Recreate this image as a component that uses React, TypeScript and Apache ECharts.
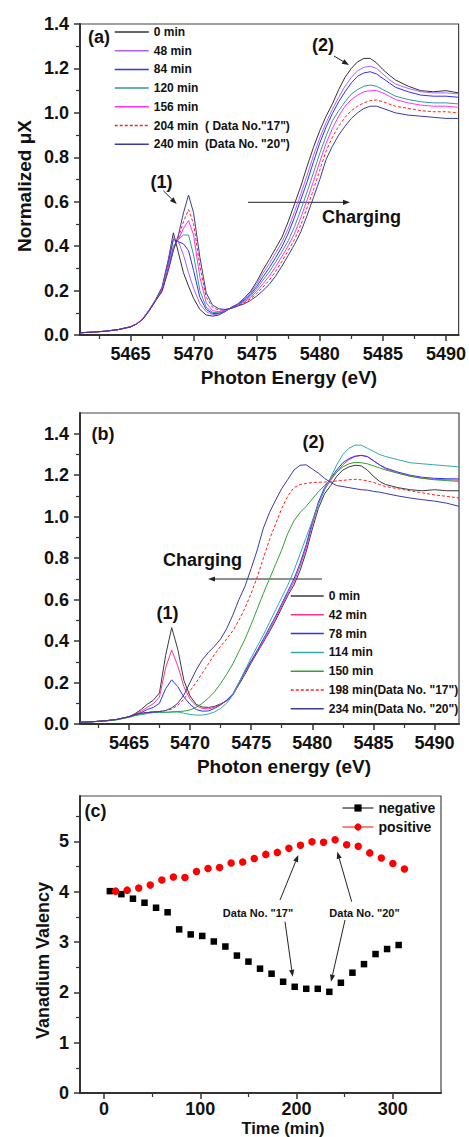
import React, { useEffect, useRef } from "react";
import * as echarts from "echarts";

// ---------- Panel (a) data ----------
const ENERGY_A = [5461, 5462, 5463, 5464, 5465, 5465.5, 5466, 5466.5, 5467, 5467.5, 5468, 5468.4, 5468.8, 5469.2, 5469.6, 5470, 5470.5, 5471, 5471.5, 5472, 5472.5, 5473, 5473.5, 5474, 5474.5, 5475, 5475.5, 5476, 5476.5, 5477, 5477.5, 5478, 5478.5, 5479, 5479.5, 5480, 5480.5, 5481, 5481.5, 5482, 5482.5, 5483, 5483.5, 5484, 5484.5, 5485, 5485.5, 5486, 5487, 5488, 5489, 5490, 5491];
const A_0 = [0.010, 0.013, 0.017, 0.024, 0.037, 0.050, 0.075, 0.115, 0.160, 0.215, 0.340, 0.460, 0.370, 0.280, 0.220, 0.165, 0.115, 0.090, 0.085, 0.090, 0.105, 0.125, 0.140, 0.165, 0.195, 0.240, 0.293, 0.340, 0.390, 0.440, 0.510, 0.590, 0.670, 0.760, 0.845, 0.920, 0.985, 1.040, 1.105, 1.160, 1.200, 1.230, 1.245, 1.245, 1.225, 1.195, 1.170, 1.148, 1.120, 1.100, 1.095, 1.100, 1.090];
const A_48 = [0.010, 0.013, 0.017, 0.024, 0.037, 0.050, 0.075, 0.113, 0.158, 0.210, 0.330, 0.440, 0.420, 0.360, 0.280, 0.210, 0.140, 0.105, 0.092, 0.094, 0.106, 0.124, 0.138, 0.161, 0.188, 0.229, 0.278, 0.321, 0.369, 0.418, 0.479, 0.555, 0.635, 0.720, 0.808, 0.887, 0.956, 1.016, 1.070, 1.120, 1.160, 1.190, 1.205, 1.210, 1.200, 1.175, 1.150, 1.130, 1.110, 1.095, 1.090, 1.090, 1.085];
const A_84 = [0.010, 0.013, 0.017, 0.024, 0.037, 0.050, 0.074, 0.112, 0.157, 0.210, 0.325, 0.430, 0.420, 0.410, 0.380, 0.290, 0.170, 0.115, 0.097, 0.097, 0.108, 0.123, 0.137, 0.157, 0.182, 0.218, 0.262, 0.303, 0.348, 0.397, 0.457, 0.530, 0.610, 0.690, 0.780, 0.864, 0.936, 0.997, 1.050, 1.095, 1.135, 1.165, 1.180, 1.185, 1.175, 1.155, 1.135, 1.115, 1.095, 1.080, 1.075, 1.075, 1.070];
const A_120 = [0.010, 0.013, 0.017, 0.024, 0.037, 0.050, 0.074, 0.112, 0.157, 0.205, 0.315, 0.400, 0.430, 0.450, 0.450, 0.360, 0.200, 0.125, 0.102, 0.100, 0.110, 0.122, 0.135, 0.153, 0.175, 0.208, 0.247, 0.284, 0.328, 0.375, 0.424, 0.488, 0.564, 0.644, 0.731, 0.818, 0.896, 0.964, 1.010, 1.050, 1.085, 1.105, 1.120, 1.125, 1.120, 1.105, 1.090, 1.075, 1.060, 1.050, 1.045, 1.045, 1.040];
const A_156 = [0.010, 0.013, 0.017, 0.024, 0.037, 0.050, 0.074, 0.112, 0.156, 0.200, 0.305, 0.390, 0.430, 0.480, 0.515, 0.450, 0.260, 0.145, 0.110, 0.105, 0.112, 0.121, 0.133, 0.148, 0.168, 0.197, 0.231, 0.265, 0.307, 0.353, 0.402, 0.457, 0.529, 0.609, 0.692, 0.780, 0.863, 0.930, 0.985, 1.030, 1.060, 1.080, 1.095, 1.100, 1.100, 1.090, 1.075, 1.060, 1.045, 1.035, 1.030, 1.030, 1.025];
const A_204 = [0.010, 0.013, 0.017, 0.024, 0.036, 0.050, 0.073, 0.111, 0.155, 0.200, 0.300, 0.385, 0.440, 0.510, 0.565, 0.500, 0.310, 0.170, 0.125, 0.112, 0.114, 0.120, 0.131, 0.144, 0.162, 0.186, 0.216, 0.247, 0.286, 0.332, 0.380, 0.430, 0.496, 0.574, 0.654, 0.742, 0.828, 0.890, 0.940, 0.980, 1.010, 1.030, 1.045, 1.055, 1.058, 1.050, 1.040, 1.030, 1.020, 1.010, 1.005, 1.005, 1.000];
const A_240 = [0.010, 0.013, 0.017, 0.024, 0.036, 0.050, 0.072, 0.110, 0.155, 0.195, 0.290, 0.380, 0.450, 0.550, 0.630, 0.550, 0.350, 0.190, 0.135, 0.118, 0.115, 0.120, 0.130, 0.140, 0.155, 0.175, 0.200, 0.228, 0.265, 0.310, 0.358, 0.408, 0.465, 0.539, 0.619, 0.700, 0.790, 0.850, 0.900, 0.940, 0.975, 1.000, 1.020, 1.030, 1.030, 1.020, 1.010, 1.000, 0.990, 0.985, 0.980, 0.975, 0.975];
const A_NAMES = ["0 min", "48 min", "84 min", "120 min", "156 min", "204 min  ( Data No.\"17\")", "240 min  (Data No. \"20\")"];
const A_COLORS = ["#333333", "#b060ff", "#3030ff", "#339999", "#ff30ff", "#ff2020", "#3a3aa0"];

// ---------- Panel (b) data ----------
const ENERGY_B = [5461, 5462, 5463, 5464, 5465, 5465.5, 5466, 5466.5, 5467, 5467.5, 5468, 5468.5, 5469, 5469.5, 5470, 5470.5, 5471, 5471.5, 5472, 5472.5, 5473, 5473.5, 5474, 5474.5, 5475, 5475.5, 5476, 5476.5, 5477, 5477.5, 5478, 5478.5, 5479, 5479.5, 5480, 5480.5, 5481, 5481.5, 5482, 5482.5, 5483, 5483.5, 5484, 5484.5, 5485, 5485.5, 5486, 5487, 5488, 5489, 5490, 5491, 5492];
const B_0 = [0.008, 0.011, 0.015, 0.022, 0.035, 0.050, 0.070, 0.095, 0.115, 0.150, 0.330, 0.465, 0.360, 0.210, 0.135, 0.095, 0.082, 0.080, 0.085, 0.097, 0.112, 0.140, 0.190, 0.240, 0.295, 0.345, 0.395, 0.445, 0.500, 0.560, 0.620, 0.670, 0.740, 0.830, 0.940, 1.040, 1.110, 1.150, 1.195, 1.225, 1.240, 1.248, 1.245, 1.225, 1.195, 1.170, 1.155, 1.140, 1.130, 1.125, 1.130, 1.125, 1.125];
const B_42 = [0.008, 0.011, 0.015, 0.022, 0.035, 0.048, 0.062, 0.080, 0.098, 0.130, 0.270, 0.357, 0.280, 0.180, 0.120, 0.088, 0.075, 0.073, 0.080, 0.095, 0.113, 0.140, 0.195, 0.250, 0.300, 0.350, 0.400, 0.455, 0.510, 0.570, 0.630, 0.685, 0.760, 0.850, 0.960, 1.060, 1.130, 1.175, 1.215, 1.250, 1.275, 1.290, 1.295, 1.290, 1.270, 1.250, 1.230, 1.210, 1.195, 1.185, 1.180, 1.178, 1.176];
const B_78 = [0.008, 0.011, 0.015, 0.022, 0.034, 0.045, 0.055, 0.070, 0.080, 0.100, 0.170, 0.213, 0.180, 0.130, 0.095, 0.070, 0.062, 0.063, 0.075, 0.092, 0.115, 0.145, 0.200, 0.255, 0.305, 0.355, 0.410, 0.465, 0.520, 0.580, 0.640, 0.700, 0.775, 0.865, 0.975, 1.070, 1.140, 1.185, 1.225, 1.260, 1.280, 1.292, 1.296, 1.290, 1.270, 1.250, 1.235, 1.215, 1.200, 1.190, 1.185, 1.183, 1.182];
const B_114 = [0.008, 0.011, 0.014, 0.020, 0.032, 0.040, 0.045, 0.050, 0.055, 0.055, 0.055, 0.058, 0.058, 0.052, 0.046, 0.043, 0.043, 0.048, 0.058, 0.075, 0.100, 0.140, 0.200, 0.260, 0.320, 0.375, 0.430, 0.490, 0.550, 0.610, 0.670, 0.740, 0.820, 0.900, 0.980, 1.060, 1.130, 1.190, 1.250, 1.300, 1.330, 1.345, 1.345, 1.330, 1.315, 1.300, 1.290, 1.275, 1.260, 1.255, 1.250, 1.245, 1.240];
const B_150 = [0.008, 0.011, 0.014, 0.021, 0.033, 0.042, 0.050, 0.055, 0.060, 0.058, 0.057, 0.058, 0.060, 0.062, 0.068, 0.080, 0.100, 0.125, 0.155, 0.195, 0.240, 0.290, 0.350, 0.410, 0.480, 0.555, 0.630, 0.700, 0.770, 0.840, 0.920, 0.980, 1.020, 1.050, 1.085, 1.120, 1.150, 1.180, 1.215, 1.240, 1.255, 1.262, 1.260, 1.255, 1.245, 1.235, 1.225, 1.210, 1.195, 1.185, 1.178, 1.174, 1.170];
const B_198 = [0.008, 0.011, 0.015, 0.022, 0.035, 0.045, 0.052, 0.056, 0.058, 0.060, 0.065, 0.072, 0.090, 0.120, 0.160, 0.200, 0.245, 0.290, 0.335, 0.375, 0.410, 0.450, 0.500, 0.560, 0.630, 0.710, 0.800, 0.890, 0.965, 1.040, 1.100, 1.140, 1.155, 1.160, 1.165, 1.166, 1.167, 1.170, 1.172, 1.175, 1.178, 1.180, 1.178, 1.172, 1.165, 1.155, 1.145, 1.135, 1.125, 1.115, 1.105, 1.098, 1.090];
const B_234 = [0.008, 0.011, 0.015, 0.022, 0.035, 0.045, 0.052, 0.055, 0.057, 0.060, 0.065, 0.078, 0.100, 0.140, 0.200, 0.260, 0.310, 0.345, 0.375, 0.410, 0.460, 0.525, 0.600, 0.665, 0.750, 0.840, 0.945, 1.020, 1.080, 1.135, 1.180, 1.225, 1.248, 1.250, 1.230, 1.210, 1.185, 1.165, 1.150, 1.145, 1.140, 1.135, 1.130, 1.128, 1.122, 1.118, 1.112, 1.100, 1.090, 1.082, 1.075, 1.065, 1.050];
const B_NAMES = ["0 min", "42 min", "78 min", "114 min", "150 min", "198 min(Data No. \"17\")", "234 min(Data No. \"20\")"];
const B_COLORS = ["#3a3a3a", "#ff3399", "#3030ff", "#33aaaa", "#33a033", "#ff2020", "#3a3aa0"];

// ---------- Panel (c) data ----------
const TIME_NEG = [6, 18, 30, 42, 54, 66, 78, 90, 102, 114, 126, 138, 150, 162, 174, 186, 198, 210, 222, 234, 246, 258, 270, 282, 294, 306];
const VAL_NEG = [4.01, 3.95, 3.86, 3.78, 3.68, 3.59, 3.25, 3.15, 3.12, 3.01, 2.91, 2.73, 2.61, 2.47, 2.37, 2.21, 2.11, 2.07, 2.07, 2.01, 2.19, 2.39, 2.56, 2.76, 2.86, 2.94];
const TIME_POS = [12, 24, 36, 48, 60, 72, 84, 96, 108, 120, 132, 144, 156, 168, 180, 192, 204, 216, 228, 240, 252, 264, 276, 288, 300, 312];
const VAL_POS = [4.01, 4.03, 4.07, 4.13, 4.23, 4.29, 4.28, 4.40, 4.46, 4.48, 4.57, 4.59, 4.66, 4.74, 4.78, 4.86, 4.92, 4.99, 4.98, 5.03, 4.93, 4.90, 4.77, 4.67, 4.56, 4.45];

// ---------- tick values ----------
const E_TICKS = [5465, 5470, 5475, 5480, 5485, 5490];
const E_MINOR = [5462.5, 5467.5, 5472.5, 5477.5, 5482.5, 5487.5];
const MU_TICKS = [0, 0.2, 0.4, 0.6, 0.8, 1.0, 1.2, 1.4];
const MU_MINOR = [0.1, 0.3, 0.5, 0.7, 0.9, 1.1, 1.3];
const T_TICKS = [0, 100, 200, 300];
const T_MINOR = [50, 150, 250];
const V_TICKS = [0, 1, 2, 3, 4, 5];
const V_MINOR = [0.5, 1.5, 2.5, 3.5, 4.5, 5.5];

const FONT = "'Liberation Sans', Arial, Helvetica, sans-serif";
const AX = "#333";
const INK = "#111";

const zip = (xs: number[], ys: number[]) => xs.map((x, i) => [x, ys[i]]);

function mainAxis(kind: "x" | "y", grid: number, min: number, max: number, ticks: number[], fmt?: (v: number) => string, margin?: number) {
  return {
    type: "value",
    gridIndex: grid,
    min,
    max,
    position: kind === "x" ? "bottom" : "left",
    axisLine: { show: true, onZero: false, lineStyle: { color: AX, width: 2 } },
    axisTick: { show: true, customValues: ticks, length: 6, lineStyle: { color: AX, width: 1.5 } },
    axisLabel: {
      show: true,
      customValues: ticks,
      margin: margin ?? (kind === "x" ? 10 : 11),
      fontSize: 18,
      fontWeight: "bold",
      fontFamily: FONT,
      color: INK,
      formatter: fmt,
    },
    splitLine: { show: false },
  };
}

function minorAxis(kind: "x" | "y", grid: number, min: number, max: number, ticks: number[]) {
  return {
    type: "value",
    gridIndex: grid,
    min,
    max,
    position: kind === "x" ? "bottom" : "left",
    axisLine: { show: false, onZero: false },
    axisTick: { show: true, customValues: ticks, length: 4, lineStyle: { color: AX, width: 1.2 } },
    axisLabel: { show: false },
    splitLine: { show: false },
  };
}

function text(x: number, y: number, t: string, size: number, rotation = 0) {
  return {
    type: "text",
    x,
    y,
    rotation,
    silent: true,
    style: {
      text: t,
      fontSize: size,
      fontWeight: "bold",
      fontFamily: FONT,
      fill: INK,
      align: "center",
      verticalAlign: "middle",
      textAlign: "center",
      textVerticalAlign: "middle",
    },
  };
}

function arrow(x1: number, y1: number, x2: number, y2: number, head = 7, half = 2.6) {
  const dx = x2 - x1;
  const dy = y2 - y1;
  const L = Math.hypot(dx, dy);
  const ux = dx / L;
  const uy = dy / L;
  const bx = x2 - ux * head;
  const by = y2 - uy * head;
  const px = -uy;
  const py = ux;
  return [
    { type: "line", silent: true, shape: { x1, y1, x2: bx, y2: by }, style: { stroke: "#222", lineWidth: 1 } },
    {
      type: "polygon",
      silent: true,
      shape: { points: [[x2, y2], [bx + px * half, by + py * half], [bx - px * half, by - py * half]] },
      style: { fill: "#222" },
    },
  ];
}

const dashOf = (i: number) => (i === 5 ? [3, 2] : "solid");

function spectraSeries(prefix: string, energy: number[], curves: number[][], names: string[], colors: string[], axis: number) {
  return curves.map((c, i) => ({
    type: "line",
    name: prefix + names[i],
    xAxisIndex: axis,
    yAxisIndex: axis,
    data: zip(energy, c),
    symbol: "none",
    silent: true,
    lineStyle: { color: colors[i], width: 1, type: dashOf(i) },
    itemStyle: { color: colors[i] },
    z: 2 + i,
  }));
}

function legendBox(left: number, top: number, prefix: string, names: string[], colors: string[], itemWidth: number, gap: number) {
  return {
    orient: "vertical",
    left,
    top,
    padding: 0,
    itemWidth,
    itemHeight: 12,
    itemGap: gap,
    selectedMode: false,
    itemStyle: { opacity: 0 },
    data: names.map((n, i) => ({
      name: prefix + n,
      itemStyle: { opacity: 0 },
      lineStyle: { color: colors[i], width: 1.5, type: dashOf(i), opacity: 1 },
    })),
    formatter: (n: string) => n.slice(prefix.length),
    textStyle: { fontSize: 12, fontWeight: "bold", fontFamily: FONT, color: INK },
  };
}

function buildOption() {
  const fmt1 = (v: number) => v.toFixed(1);
  const fmt0 = (v: number) => String(Math.round(v));
  const gridCommon = { show: true, borderColor: "#444", borderWidth: 1.2, backgroundColor: "transparent" };

  const graphic: any[] = [
    // panel (a)
    text(99, 37, "(a)", 18),
    text(161.5, 182, "(1)", 18),
    text(323, 45, "(2)", 18),
    text(361.5, 217, "Charging", 18),
    ...arrow(163.3, 190.7, 176.7, 204),
    ...arrow(334, 56, 349, 65),
    ...arrow(248, 202.3, 350, 202.3),
    text(289, 377, "Photon Energy (eV)", 19),
    text(24, 186, "Normalized \u03bcX", 19, Math.PI / 2),
    // panel (b)
    text(103, 434, "(b)", 18),
    text(313.5, 442, "(2)", 18),
    text(167.5, 612.5, "(1)", 18),
    text(202.5, 560, "Charging", 18),
    ...arrow(322, 579, 208, 579),
    text(284, 766, "Photon energy (eV)", 19),
    // panel (c)
    text(95.5, 811, "(c)", 18),
    text(258, 913, "Data No. \"17\"", 11),
    text(364.5, 913, "Data No. \"20\"", 11),
    ...arrow(280, 900, 298.3, 855),
    ...arrow(285, 921.7, 292.7, 976.7),
    ...arrow(351.7, 901.7, 337.3, 851.7),
    ...arrow(345, 920, 331, 981.7),
    text(283, 1127.5, "Time (min)", 16.5),
    text(43, 960.5, "Vanadium Valency", 18, Math.PI / 2),
  ];

  return {
    animation: false,
    backgroundColor: "#ffffff",
    grid: [
      { ...gridCommon, left: 80, top: 24, width: 381, height: 311 },
      { ...gridCommon, left: 80, top: 413, width: 379, height: 311 },
      { ...gridCommon, left: 80, top: 796, width: 361, height: 297 },
    ],
    xAxis: [
      mainAxis("x", 0, 5461, 5491, E_TICKS, fmt0),
      minorAxis("x", 0, 5461, 5491, E_MINOR),
      mainAxis("x", 1, 5461, 5492, E_TICKS, fmt0),
      minorAxis("x", 1, 5461, 5492, E_MINOR),
      mainAxis("x", 2, -25, 350, T_TICKS, fmt0, 7),
      minorAxis("x", 2, -25, 350, T_MINOR),
    ],
    yAxis: [
      mainAxis("y", 0, 0, 1.4, MU_TICKS, fmt1),
      minorAxis("y", 0, 0, 1.4, MU_MINOR),
      mainAxis("y", 1, 0, 1.5, MU_TICKS, fmt1),
      minorAxis("y", 1, 0, 1.5, MU_MINOR),
      mainAxis("y", 2, 0, 5.9, V_TICKS, fmt0),
      minorAxis("y", 2, 0, 5.9, V_MINOR),
    ],
    legend: [
      legendBox(114, 26, "a:", A_NAMES, A_COLORS, 34, 6.7),
      legendBox(290, 590, "b:", B_NAMES, B_COLORS, 33, 6.8),
      {
        orient: "vertical",
        left: 342,
        top: 801,
        padding: 0,
        itemWidth: 31,
        itemHeight: 9,
        itemGap: 5,
        selectedMode: false,
        lineStyle: { opacity: 1, width: 1 },
        data: [
          { name: "negative", lineStyle: { opacity: 1, width: 1, color: "#000" } },
          { name: "positive", lineStyle: { opacity: 1, width: 1, color: "#ff0000" } },
        ],
        textStyle: { fontSize: 14, fontWeight: "bold", fontFamily: FONT, color: INK },
      },
    ],
    series: [
      ...spectraSeries("a:", ENERGY_A, [A_0, A_48, A_84, A_120, A_156, A_204, A_240], A_NAMES, A_COLORS, 0),
      ...spectraSeries("b:", ENERGY_B, [B_0, B_42, B_78, B_114, B_150, B_198, B_234], B_NAMES, B_COLORS, 2),
      {
        type: "line",
        name: "negative",
        xAxisIndex: 4,
        yAxisIndex: 4,
        data: zip(TIME_NEG, VAL_NEG),
        symbol: "rect",
        symbolSize: 6.5,
        showSymbol: true,
        silent: true,
        itemStyle: { color: "#000" },
        lineStyle: { color: "#000", width: 1, opacity: 0 },
        z: 5,
      },
      {
        type: "line",
        name: "positive",
        xAxisIndex: 4,
        yAxisIndex: 4,
        data: zip(TIME_POS, VAL_POS),
        symbol: "circle",
        symbolSize: 7.5,
        showSymbol: true,
        silent: true,
        itemStyle: { color: "#ff0000" },
        lineStyle: { color: "#ff0000", width: 1, opacity: 0 },
        z: 5,
      },
    ],
    graphic,
  };
}

export default function App() {
  const ref = useRef<HTMLDivElement>(null);
  useEffect(() => {
    if (!ref.current) return;
    const chart = echarts.init(ref.current, undefined, { renderer: "svg" });
    chart.setOption(buildOption() as any);
    return () => chart.dispose();
  }, []);
  return (
    <div
      ref={ref}
      style={{ position: "fixed", left: 0, top: 0, width: 469, height: 1137, background: "#fff" }}
    />
  );
}
